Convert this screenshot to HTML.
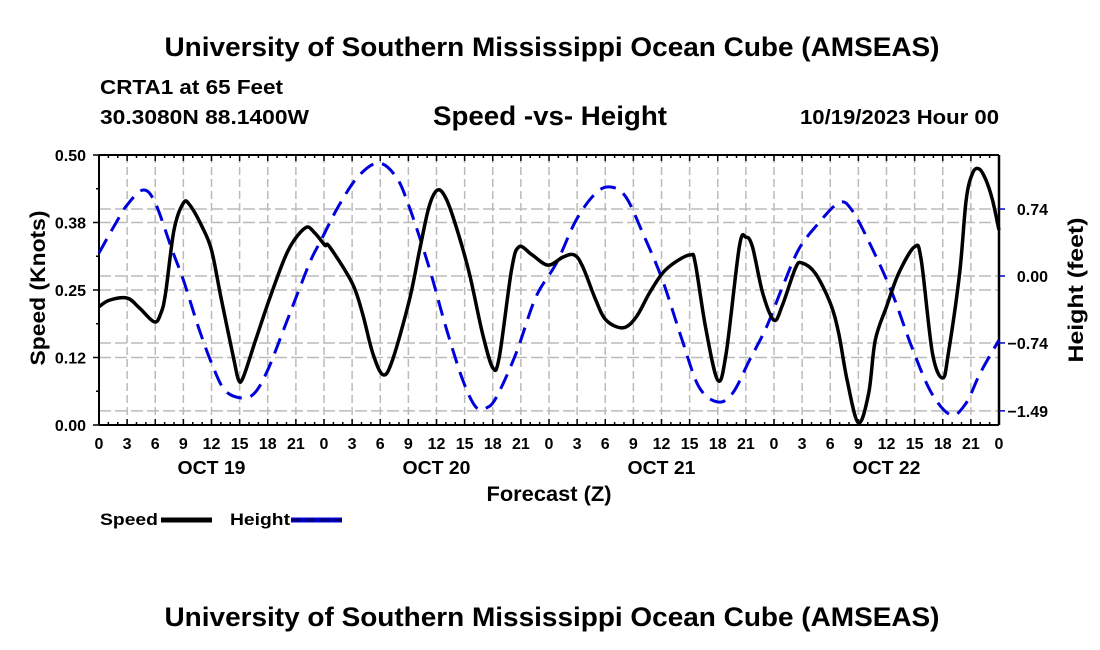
<!DOCTYPE html>
<html><head><meta charset="utf-8"><style>
body{margin:0;background:#fff;}
svg{display:block;font-family:"Liberation Sans",Arial,sans-serif;font-weight:bold;}
</style></head><body>
<svg id="chart" width="1100" height="650" viewBox="0 0 1100 650">
<text x="552" y="56" text-anchor="middle" font-size="27" textLength="775" lengthAdjust="spacingAndGlyphs">University of Southern Mississippi Ocean Cube (AMSEAS)</text>
<text x="100" y="94" font-size="20" textLength="183" lengthAdjust="spacingAndGlyphs">CRTA1 at 65 Feet</text>
<text x="100" y="124" font-size="20" textLength="209" lengthAdjust="spacingAndGlyphs">30.3080N  88.1400W</text>
<text x="550" y="125" text-anchor="middle" font-size="27" textLength="234" lengthAdjust="spacingAndGlyphs">Speed -vs- Height</text>
<text x="999" y="124" text-anchor="end" font-size="20" textLength="199" lengthAdjust="spacingAndGlyphs">10/19/2023 Hour 00</text>
<g id="grid"></g>
<g id="axes"></g>
<g id="series"></g>
<text x="549" y="501" text-anchor="middle" font-size="21" textLength="125" lengthAdjust="spacingAndGlyphs">Forecast (Z)</text>
<text transform="translate(45,288) rotate(-90)" text-anchor="middle" font-size="21" textLength="155" lengthAdjust="spacingAndGlyphs">Speed (Knots)</text>
<text transform="translate(1083,290) rotate(-90)" text-anchor="middle" font-size="21" textLength="145" lengthAdjust="spacingAndGlyphs">Height (feet)</text>
<g>
<g><text x="100" y="525" font-size="17" textLength="58" lengthAdjust="spacingAndGlyphs">Speed</text><line x1="161" y1="520" x2="212" y2="520" stroke="#000" stroke-width="5"/></g>
<g><text x="230" y="525" font-size="17" textLength="60" lengthAdjust="spacingAndGlyphs">Height</text><line x1="291" y1="520" x2="342" y2="520" stroke="#0000cc" stroke-width="5"/><line x1="291" y1="520" x2="342" y2="520" stroke="#000" stroke-width="1" stroke-dasharray="10,4"/></g>
</g>
<text x="552" y="626" text-anchor="middle" font-size="27" textLength="775" lengthAdjust="spacingAndGlyphs">University of Southern Mississippi Ocean Cube (AMSEAS)</text>
</svg>
<script>
const speedHours=[0,1.1,3,4.3,5.9,6.6,7.1,8,9,9.7,11,12,13,14.4,14.9,15.4,16.7,18.4,20.2,22,23,24.1,24.6,27,28.1,29.2,30.3,31.3,33.1,34.2,35.2,36.1,37,38.1,39.5,40.9,42,42.7,44,44.8,46.2,47.9,49.5,50.7,51.6,53,54.1,55.9,57.3,58.7,60.1,61.5,63.1,63.6,64.7,66,66.9,68.3,69,69.7,70.8,72,72.9,74.3,75,76.4,78,78.9,79.8,81,82.1,82.8,84,85.3,87,87.7,88.9,90,90.6,91.8,92.5,93.2,93.9,94.6,95.3,96];
const speedValues=[.219,.231,.235,.217,.191,.207,.244,.361,.411,.407,.367,.324,.237,.120,.083,.089,.157,.244,.324,.365,.356,.333,.330,.263,.207,.133,.093,.120,.231,.324,.404,.435,.420,.367,.281,.170,.106,.126,.287,.330,.315,.296,.311,.315,.293,.231,.194,.180,.200,.244,.281,.302,.315,.300,.181,.083,.133,.330,.348,.330,.244,.194,.222,.291,.300,.281,.226,.170,.083,.004,.059,.157,.219,.281,.330,.306,.133,.087,.133,.281,.417,.467,.474,.454,.417,.361];
const heightHours=[0,1.8,3,4.7,6,7.8,9,10.6,12,13.4,15.2,16.6,18,19.8,21.2,22.6,23.7,25.5,27.6,29.8,31.7,33.1,35.2,37,38.8,40.2,41.3,42.4,44.5,46.6,48.8,50.9,53,54.6,56.2,58,60.1,62.2,64,66,67.6,69.4,71.2,72.9,74.6,76.4,78.9,80.3,82.4,84.6,86.7,88.8,90.9,92.5,94,96];
const heightValues=[.254,.586,.785,.950,.807,.287,-.044,-.564,-.961,-1.26,-1.348,-1.293,-1.039,-.564,-.188,.177,.398,.762,1.094,1.249,1.094,.762,.099,-.564,-1.149,-1.448,-1.459,-1.337,-.851,-.232,.144,.619,.917,.983,.873,.475,-.044,-.707,-1.227,-1.392,-1.293,-.928,-.564,-.122,.287,.541,.807,.729,.320,-.188,-.785,-1.293,-1.536,-1.403,-1.072,-.707];
const xTickLabels=["0","3","6","9","12","15","18","21","0","3","6","9","12","15","18","21","0","3","6","9","12","15","18","21","0","3","6","9","12","15","18","21","0"];
const dayLabels=["OCT 19","OCT 20","OCT 21","OCT 22"];
const leftTicks=[0,0.125,0.25,0.375,0.5];
const leftTickLabels=["0.00","0.12","0.25","0.38","0.50"];
const rightTicks=[-1.49,-0.74,0,0.74];
const rightTickLabels=["\u22121.49","\u22120.74","0.00","0.74"];

const L=99,R=999,T=155,B=425;
const x=h=>L+(h/96)*(R-L);
const yS=v=>B-(v/0.5)*(B-T);
const yH=f=>276-f*90.5;
const NS="http://www.w3.org/2000/svg";
function mk(tag,attrs,parent){const e=document.createElementNS(NS,tag);for(const k in attrs)e.setAttribute(k,attrs[k]);parent.appendChild(e);return e;}
const grid=document.getElementById('grid'),axes=document.getElementById('axes'),series=document.getElementById('series');
for(let i=1;i<32;i++){const l=mk('line',{x1:x(i*3),x2:x(i*3),y1:T,y2:B,stroke:'#bbb','stroke-width':1.5,'stroke-dasharray':'8,4'},grid);

}
leftTicks.slice(1,4).forEach(v=>{const l=mk('line',{x1:L,x2:R,y1:yS(v),y2:yS(v),stroke:'#bbb','stroke-width':1.5,'stroke-dasharray':'12,4'},grid);

});
rightTicks.forEach(v=>{const l=mk('line',{x1:L,x2:R,y1:yH(v),y2:yH(v),stroke:'#bbb','stroke-width':1.5,'stroke-dasharray':'12,4'},grid);

});
mk('line',{x1:L,x2:R,y1:T,y2:T,stroke:'#000','stroke-width':2},axes);
mk('line',{x1:L,x2:R,y1:B,y2:B,stroke:'#000','stroke-width':2},axes);
mk('line',{x1:L,x2:L,y1:T,y2:B,stroke:'#000','stroke-width':2},axes);
mk('line',{x1:R,x2:R,y1:T,y2:B,stroke:'#000','stroke-width':2.5},axes);
for(let i=0;i<=96;i++){const len=i%3==0?6:3;
mk('line',{x1:x(i),x2:x(i),y1:T,y2:T+len,stroke:'#000','stroke-width':1.5},axes);
mk('line',{x1:x(i),x2:x(i),y1:B,y2:B-len,stroke:'#000','stroke-width':1.5},axes);}
xTickLabels.forEach((t,i)=>{const e=mk('text',{x:x(i*3),y:449,'text-anchor':'middle','font-size':16},axes);e.textContent=t;

});
dayLabels.forEach((t,i)=>{const e=mk('text',{x:x(12+i*24),y:474,'text-anchor':'middle','font-size':18,textLength:68,lengthAdjust:'spacingAndGlyphs'},axes);e.textContent=t;

});
leftTicks.forEach((v,i)=>{mk('line',{x1:L-6,x2:L,y1:yS(v),y2:yS(v),stroke:'#000','stroke-width':1.5},axes);
if(i<4)mk('line',{x1:L-3,x2:L,y1:yS(v+0.0625),y2:yS(v+0.0625),stroke:'#000','stroke-width':1.5},axes);
const e=mk('text',{x:L-13,y:yS(v)+6,'text-anchor':'end','font-size':16},axes);e.textContent=leftTickLabels[i];

});
rightTicks.forEach((v,i)=>{mk('line',{x1:R,x2:R+6,y1:yH(v),y2:yH(v),stroke:'#0000cc','stroke-width':1.5},axes);
const e=mk('text',{x:1048,y:yH(v)+6,'text-anchor':'end','font-size':16},axes);e.textContent=rightTickLabels[i];

});
function path(hs,vs,fy){const p=hs.map((h,i)=>[x(h),fy(vs[i])]);let d='M'+p[0][0]+','+p[0][1];
for(let i=0;i<p.length-1;i++){const p0=p[Math.max(i-1,0)],p1=p[i],p2=p[i+1],p3=p[Math.min(i+2,p.length-1)];
const c1=[p1[0]+(p2[0]-p0[0])/6,p1[1]+(p2[1]-p0[1])/6],c2=[p2[0]-(p3[0]-p1[0])/6,p2[1]-(p3[1]-p1[1])/6];
d+=' C'+c1+' '+c2+' '+p2;}return d;}
const hp=mk('path',{d:path(heightHours,heightValues,yH),fill:'none',stroke:'#0000dd','stroke-width':3,'stroke-dasharray':'16,9'},series);


const sp=mk('path',{d:path(speedHours,speedValues,yS),fill:'none',stroke:'#000','stroke-width':3.5,'stroke-linejoin':'round'},series);


</script>
</body></html>
